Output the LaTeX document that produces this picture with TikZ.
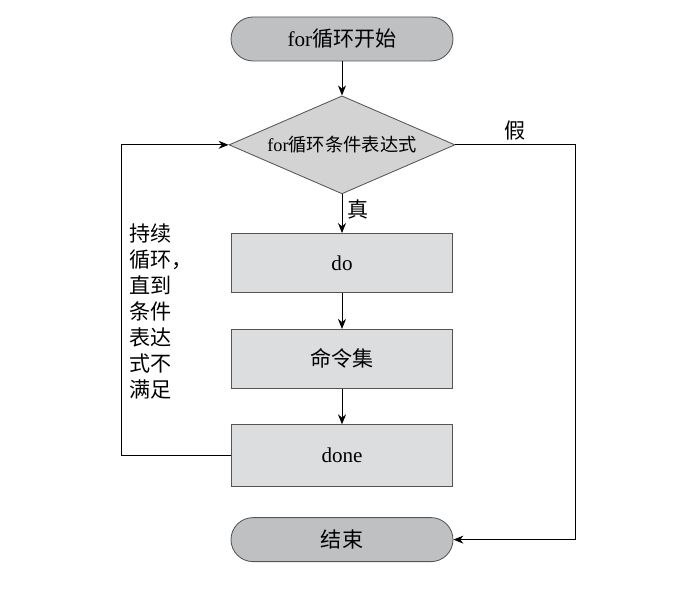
\documentclass[tikz,border=0pt]{standalone}
\usepackage{fontspec}
\setmainfont{Liberation Serif}
\newfontfamily\cjk{Noto Sans CJK SC}
\usetikzlibrary{shapes.geometric,arrows.meta,positioning}
\definecolor{blokterminal}{RGB}{191,192,194}
\definecolor{blokproces}{RGB}{220,221,223}
\definecolor{blokuslov}{RGB}{211,211,211}
\definecolor{okvir}{RGB}{85,85,85}

\begin{document}
\begin{tikzpicture}[
    node distance=0.9cm,
    blok/.style={rectangle,draw=okvir,line width=0.6pt,minimum width=5.525cm,
                 minimum height=1.475cm,align=center,fill=blokproces,
                 font=\fontsize{15}{18}\selectfont},
    terminal/.style={blok,rounded corners=0.55cm,minimum width=5.55cm,
                     minimum height=1.1cm,fill=blokterminal},
    uslov/.style={diamond,draw=okvir,line width=0.6pt,aspect=2.3,inner sep=0pt,
                  minimum width=5.65cm,minimum height=2.45cm,fill=blokuslov,
                  font=\fontsize{13}{16}\selectfont},
    oznaka/.style={font=\cjk\fontsize{15}{18.5}\selectfont},
    strelica/.style={-{Stealth[length=2.5mm,width=2mm]},line width=0.6pt}
]
\useasboundingbox (0,0) rectangle (17.2,-15.25);
\node[terminal] (start) at (8.55,-0.975) {for{\cjk 循环开始}};
\node[uslov,below=0.85cm of start] (uslov) {for{\cjk 循环条件表达式}};
\node[blok,below=0.97cm of uslov] (do) {do};
\node[blok,below=of do] (komande) {{\cjk 命令集}};
\node[blok,below=0.89cm of komande,minimum height=1.55cm] (done) {done};
\node[terminal,below=0.75cm of done] (kraj) {{\cjk 结束}};
\node[oznaka,anchor=north west,align=left,inner sep=0pt] (napomena) at (3.22,-5.58)
    {持续\\循环，\\直到\\条件\\表达\\式不\\满足};

\coordinate (levo) at (3.025,0);
\coordinate (desno) at (14.375,0);

\draw[strelica] (start) -- (uslov);
\draw[strelica] (uslov) -- node[oznaka,right,pos=0.4] {真} (do);
\draw[strelica] (do) -- (komande);
\draw[strelica] (komande) -- (done);
\draw[strelica] (done.west) -- (done.west -| levo) |- (uslov.west);
\draw[strelica] (uslov.east) -- node[oznaka,above] {假} (uslov.east -| desno) |- (kraj.east);
\end{tikzpicture}
\end{document}
